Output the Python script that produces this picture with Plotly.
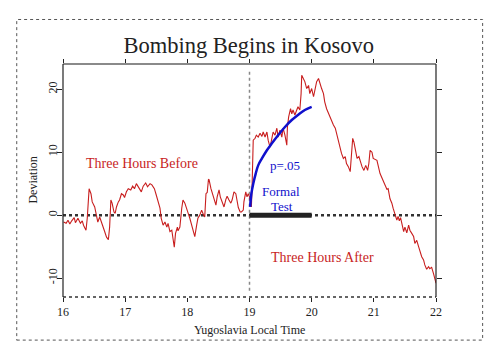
import plotly.graph_objects as go

# Red series: deviation over Yugoslavia local time (hours)
time_hours = [
    16.01, 16.05, 16.08, 16.11, 16.14, 16.18, 16.20, 16.24, 16.28, 16.31,
    16.33, 16.37, 16.39, 16.42, 16.45, 16.47, 16.51, 16.54, 16.56, 16.59,
    16.62, 16.64, 16.67, 16.70, 16.73, 16.75, 16.77, 16.79, 16.82, 16.84,
    16.86, 16.89, 16.91, 16.94, 16.97, 16.99, 17.02, 17.05, 17.09, 17.12,
    17.15, 17.18, 17.21, 17.24, 17.26, 17.29, 17.33, 17.36, 17.40, 17.43,
    17.47, 17.50, 17.53, 17.56, 17.58, 17.61, 17.64, 17.67, 17.69, 17.72,
    17.75, 17.77, 17.79, 17.81, 17.84, 17.85, 17.88, 17.91, 17.93, 17.96,
    17.99, 18.01, 18.04, 18.07, 18.09, 18.12, 18.15, 18.17, 18.20, 18.23,
    18.25, 18.28, 18.30, 18.32, 18.34, 18.35, 18.38, 18.41, 18.43, 18.46,
    18.48, 18.51, 18.53, 18.56, 18.59, 18.62, 18.64, 18.67, 18.70, 18.72,
    18.75, 18.78, 18.80, 18.82, 18.85, 18.87, 18.90, 18.91, 18.94, 18.96,
    18.98, 19.00, 19.02, 19.03, 19.04, 19.05, 19.06, 19.09, 19.11, 19.14,
    19.17, 19.20, 19.22, 19.25, 19.28, 19.30, 19.33, 19.36, 19.38, 19.41,
    19.44, 19.46, 19.49, 19.52, 19.54, 19.57, 19.60, 19.61, 19.63, 19.66,
    19.68, 19.70, 19.73, 19.76, 19.78, 19.81, 19.83, 19.84, 19.86, 19.89,
    19.92, 19.95, 19.97, 20.00, 20.03, 20.05, 20.08, 20.11, 20.13, 20.16,
    20.19, 20.21, 20.24, 20.27, 20.29, 20.32, 20.35, 20.38, 20.40, 20.43,
    20.46, 20.48, 20.51, 20.54, 20.56, 20.59, 20.62, 20.64, 20.66, 20.68,
    20.71, 20.73, 20.76, 20.79, 20.81, 20.84, 20.87, 20.90, 20.92, 20.94,
    20.97, 20.99, 21.05, 21.10, 21.15, 21.18, 21.21, 21.23, 21.26, 21.29,
    21.31, 21.34, 21.37, 21.39, 21.41, 21.43, 21.45, 21.48, 21.50, 21.53,
    21.56, 21.58, 21.61, 21.64, 21.66, 21.69, 21.72, 21.74, 21.77, 21.80,
    21.82, 21.85, 21.88, 21.90, 21.93, 21.96, 21.98, 22.00,
]
deviation = [
    -1.1, -1.3, -0.8, -1.4, -0.9, -0.4, -1.2, -0.5, -1.3, -0.9,
    -1.6, -2.4, -0.5, 4.2, 3.4, 2.1, 1.3, 0.0, -1.1, -0.3,
    -1.3, -1.9, -2.6, -3.5, -3.9, -1.9, 2.4, 1.9, 0.5, 0.3,
    1.3, 2.1, 2.4, 3.4, 3.2, 2.8, 3.7, 4.2, 4.0, 4.6,
    4.2, 5.0, 4.5, 4.2, 3.7, 4.6, 5.1, 4.5, 5.0, 4.8,
    4.2, 3.2, 2.1, 1.1, -0.5, -1.6, -1.1, -1.9, -1.3, -2.6,
    -2.4, -4.0, -5.1, -2.9, -1.9, -2.5, -1.9, 1.1, 2.4, 1.9,
    0.8, 0.4, -0.5, -1.6, -2.4, -3.4, -1.6, -0.5, 0.0, 0.8,
    0.3, -0.3, 3.4, 3.6, 5.7, 5.6, 4.2, 3.2, 2.4, 1.6,
    2.9, 4.0, 2.9, 1.9, 1.3, 2.5, 3.0, 2.4, 1.9, 2.4,
    3.7, 3.4, 2.4, 1.2, 0.5, 0.5, 0.8, 2.1, 3.7, 2.9,
    3.4, 2.9, 1.9, 1.3, 4.0, 7.7, 11.9, 12.2, 12.7, 12.4,
    13.0, 12.5, 13.2, 12.4, 13.2, 11.9, 10.8, 12.2, 13.2, 12.7,
    13.8, 12.4, 13.5, 12.4, 13.8, 12.7, 11.1, 14.0, 15.6, 16.9,
    16.1, 16.7, 15.9, 16.7, 17.2, 16.7, 19.3, 22.2, 21.7, 21.2,
    20.1, 20.6, 19.3, 20.1, 18.8, 19.6, 21.2, 21.7, 20.9, 20.1,
    19.3, 18.0, 16.9, 16.1, 15.6, 14.8, 14.3, 13.8, 13.0, 11.4,
    10.3, 9.8, 9.0, 9.3, 8.2, 7.7, 6.9, 10.3, 12.2, 11.6,
    10.3, 9.0, 9.3, 8.2, 7.7, 7.1, 7.9, 7.1, 8.2, 10.3,
    10.0, 9.0, 8.7, 6.6, 5.6, 4.8, 4.1, 4.2, 2.6, 1.9,
    1.1, 0.3, -0.8, -0.2, -0.9, -0.4, -1.3, -2.6, -1.9, -2.8,
    -1.6, -2.4, -2.9, -3.4, -4.5, -4.0, -5.0, -5.8, -6.6, -7.1,
    -7.9, -8.6, -8.2, -8.5, -8.3, -9.3, -10.3, -10.8,
]

# Blue p=.05 envelope for the formal test period
test_time = [19.01, 19.03, 19.06, 19.10, 19.14, 19.20, 19.28, 19.36, 19.46,
             19.57, 19.68, 19.78, 19.89, 20.00]
test_p05 = [1.3, 3.4, 5.0, 6.6, 7.9, 9.0, 10.3, 11.4, 12.7,
            14.0, 15.1, 15.9, 16.7, 17.2]

x_ticks = [16, 17, 18, 19, 20, 21, 22]
y_ticks = [-10, 0, 10, 20]
x_range = [16, 22]
y_range = [-13, 24]
event_time = 19
test_end = 20

SERIF = "Liberation Serif, Times New Roman, serif"
RED = "#c81e1e"
BLUE = "#1010cc"

fig = go.Figure()

# zero reference line across the plot (dotted)
fig.add_trace(go.Scatter(x=x_range, y=[0, 0], mode="lines",
                         line=dict(color="#333333", width=2.5, dash="dot"),
                         hoverinfo="skip", showlegend=False))
# vertical event line
fig.add_trace(go.Scatter(x=[event_time, event_time], y=[-12, 23.2], mode="lines",
                         line=dict(color="#888888", width=1.5, dash="dot"),
                         hoverinfo="skip", showlegend=False))
# red deviation series
fig.add_trace(go.Scatter(x=time_hours, y=deviation, mode="lines",
                         line=dict(color=RED, width=1.1),
                         showlegend=False))
# formal test period bar
fig.add_trace(go.Scatter(x=[event_time, test_end], y=[0, 0], mode="lines",
                         line=dict(color="#222222", width=5),
                         hoverinfo="skip", showlegend=False))
# p=.05 curve
fig.add_trace(go.Scatter(x=test_time, y=test_p05, mode="lines",
                         line=dict(color=BLUE, width=2.5, shape="spline"),
                         showlegend=False))

# plot borders
fig.add_shape(type="line", xref="paper", yref="paper", x0=0, x1=1, y0=1, y1=1,
              line=dict(color="#8a8a8a", width=2))
fig.add_shape(type="line", xref="paper", yref="paper", x0=0, x1=1, y0=0, y1=0,
              line=dict(color="#333333", width=1.5, dash="dot"))
fig.add_shape(type="line", xref="paper", yref="paper", x0=0, x1=0, y0=0, y1=1,
              line=dict(color="#222222", width=1.2))
fig.add_shape(type="line", xref="paper", yref="paper", x0=1, x1=1, y0=0, y1=1,
              line=dict(color="#222222", width=1.2))
# outer frame
fig.add_shape(type="rect", xref="paper", yref="paper",
              x0=-0.124, x1=1.125, y0=-0.185, y1=1.191,
              line=dict(color="#555555", width=1, dash="dot"))

# text annotations
ann = [
    dict(x=17.27, y=8.2, text="Three Hours Before", color=RED, size=14),
    dict(x=20.18, y=-6.8, text="Three Hours After", color=RED, size=14),
    dict(x=19.57, y=7.9, text="p=.05", color=BLUE, size=13),
    dict(x=19.50, y=3.8, text="Formal", color=BLUE, size=13),
    dict(x=19.52, y=1.3, text="Test", color=BLUE, size=13),
]
for a in ann:
    fig.add_annotation(x=a["x"], y=a["y"], text=a["text"], showarrow=False,
                       xref="x", yref="y",
                       font=dict(family=SERIF, size=a["size"], color=a["color"]))

fig.add_annotation(x=0.5, y=-0.182, xref="paper", yref="paper",
                   text="Yugoslavia Local Time", showarrow=False,
                   font=dict(family=SERIF, size=12, color="#222222"))
fig.add_annotation(x=-0.107, y=0.5, xref="paper", yref="paper",
                   text="Deviation", showarrow=False, textangle=-90,
                   font=dict(family=SERIF, size=12, color="#222222"))

fig.update_layout(
    width=500, height=358,
    margin=dict(l=55, r=72, t=56, b=69),
    paper_bgcolor="white", plot_bgcolor="white",
    title=dict(text="Bombing Begins in Kosovo", x=0.498, xref="paper",
               xanchor="center", y=1 - 37 / 358, yanchor="middle",
               font=dict(family=SERIF, size=22.5, color="#222222")),
    showlegend=False,
    xaxis=dict(range=x_range, tickvals=x_ticks, ticktext=[str(v) for v in x_ticks],
               showgrid=False, zeroline=False, showline=True, linecolor="white",
               linewidth=1, mirror="ticks",
               ticks="outside", ticklen=4, tickcolor="#222222", tickwidth=1,
               tickfont=dict(family=SERIF, size=12, color="#222222")),
    yaxis=dict(range=y_range, tickvals=y_ticks, ticktext=[str(v) for v in y_ticks],
               showgrid=False, zeroline=False, showline=True, linecolor="white",
               linewidth=1, mirror="ticks",
               ticks="outside", ticklen=5, tickcolor="#222222", tickwidth=1,
               tickangle=-90, ticklabelstandoff=-5,
               tickfont=dict(family=SERIF, size=12, color="#222222")),
)

fig.write_html("out.html")
